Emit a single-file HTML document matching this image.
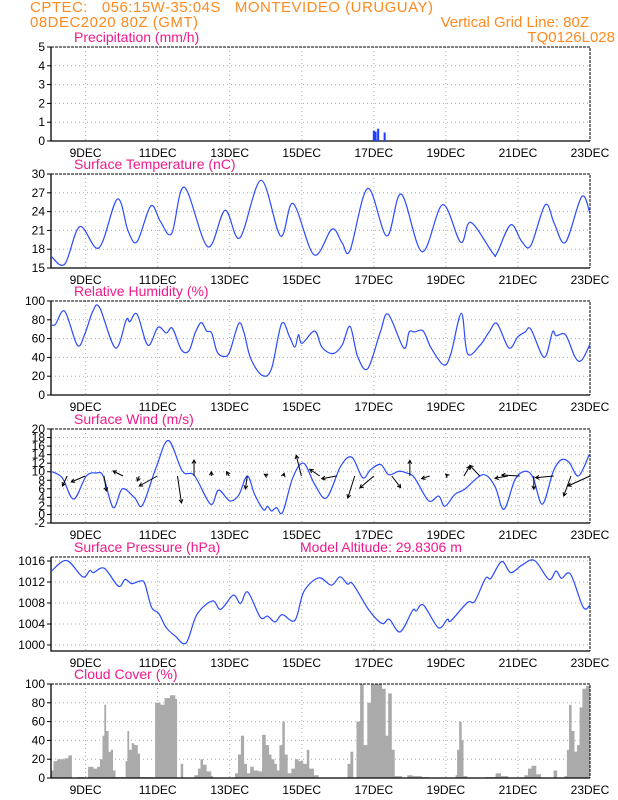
<!DOCTYPE html>
<html><head><meta charset="utf-8">
<style>
html,body{margin:0;padding:0;background:#fff;}
svg{display:block;font-family:"Liberation Sans",sans-serif;}
text{white-space:pre;}
</style></head>
<body>
<svg id="chart" width="618" height="800" viewBox="0 0 618 800">
<text x="30" y="12" font-size="15" fill="#ff8a20" textLength="403" xml:space="preserve">CPTEC:   056:15W-35:04S   MONTEVIDEO (URUGUAY)</text>
<text x="30" y="27" font-size="15" fill="#ff8a20" textLength="168" xml:space="preserve">08DEC2020 80Z (GMT)</text>
<text x="589" y="27" font-size="15" fill="#ff8a20" text-anchor="end">Vertical Grid Line: 80Z</text>
<text x="615" y="42" font-size="15" fill="#ff8a20" text-anchor="end">TQ0126L028</text>
</svg>
<script>
// ---- data (days = day of December) ----
const dayTicks = [9,11,13,15,17,19,21,23];
const dayLabels = ["9DEC","11DEC","13DEC","15DEC","17DEC","19DEC","21DEC","23DEC"];

const precipDays = [17.0,17.05,17.12,17.3];
const precipVals = [0.55,0.5,0.65,0.45];

const tempDays = [8.04,8.42,8.84,9.37,9.88,10.18,10.43,10.81,11.08,11.39,11.74,12.39,12.87,13.28,13.87,14.41,14.76,15.34,15.84,16.12,16.34,16.83,17.36,17.76,18.34,18.91,19.41,19.69,20.30,20.42,20.80,21.11,21.36,21.76,22.01,22.32,22.77,23.0];
const tempVals = [16.9,15.6,21.6,18.2,26.0,20.9,19.2,24.9,22.4,20.5,27.9,18.4,24.2,19.8,29.0,20.1,25.3,17.1,21.2,19.0,17.8,27.7,20.1,26.8,17.6,25.1,19.1,22.3,17.4,17.4,21.9,19.2,18.6,25.1,22.1,19.1,26.4,23.7];

const rhDays = [8.04,8.16,8.42,8.77,8.97,9.2,9.39,9.83,10.13,10.23,10.43,10.73,11.01,11.24,11.41,11.66,11.87,12.04,12.21,12.36,12.5,12.65,12.85,13.0,13.25,13.4,13.58,13.9,14.16,14.44,14.66,14.81,14.91,15.01,15.36,15.56,15.86,16.12,16.34,16.55,16.83,17.18,17.4,17.83,17.98,18.13,18.37,18.59,18.94,19.14,19.43,19.6,19.95,20.2,20.42,20.75,21.0,21.2,21.36,21.73,21.96,22.06,22.32,22.59,22.77,23.0];
const rhVals = [75,75,89,53,64,89,93,50,80,78,86,53,72,66,71,48,47,66,77,68,66,46,41,46,76,66,39,21,28,76,62,51,64,55,68,51,44,53,73,41,28,67,86,50,67,67,68,50,32,44,87,44,53,67,76,50,62,67,70,40,67,63,64,40,37,54];

const windDays = [8.04,8.35,8.67,9.02,9.3,9.49,9.77,10.02,10.36,10.58,10.97,11.3,11.69,12.02,12.47,12.69,13.0,13.25,13.49,13.69,13.94,14.05,14.16,14.3,14.47,14.75,15.05,15.36,15.69,16.08,16.39,16.69,16.91,17.19,17.41,17.69,17.91,18.13,18.52,18.8,18.97,19.25,19.52,20.03,20.36,20.61,20.92,21.2,21.42,21.68,21.98,22.2,22.42,22.68,22.98];
const windVals = [10.1,8.6,3.6,9.0,9.7,9.0,1.6,6.0,3.9,2.2,11.3,17.3,10.1,9.1,2.4,5.7,3.2,4.5,9.0,4.7,1.1,1.9,0.8,1.6,0.5,8.6,12.0,7.0,3.9,11.3,13.4,8.6,10.5,11.7,9.3,10.1,9.7,8.6,3.2,4.3,1.9,4.7,5.9,9.3,6.6,1.2,8.2,10.1,8.6,2.4,10.1,12.8,12.2,9.0,14.0];

const arrowDays = [8.99,8.49,10.04,9.51,10.99,10.49,11.55,12.01,12.49,12.99,13.49,14.05,14.49,14.99,15.97,15.5,16.47,17.0,17.5,18.0,18.55,19.05,19.5,19.94,20.72,21.05,21.44,21.99,22.47,23.0];
const arrowU = [-14,-4.8,-10,2.4,-18,-2,4,0,0,-2.8,-2,-3.2,0.8,-5.2,-15,-10,-7,-14,8.8,0,-8,-2,6,-10,-12.8,-18,0,-18,-7.2,-22];
const arrowV = [-6,-10,5,-15,-10,-5,-27,16,4.3,4.3,-13,1.7,2.7,20.7,-2.7,6.7,-22,-12,-11.7,15.7,-2.7,1.7,10,10.7,-2.3,1,-13.3,-1.7,-20,-10];

const presDays = [8.04,8.47,8.92,9.12,9.22,9.52,9.91,10.1,10.28,10.53,10.65,10.83,11.03,11.24,11.49,11.79,12.09,12.52,12.75,13.1,13.3,13.5,13.85,14.05,14.26,14.46,14.81,15.06,15.47,15.82,16.06,16.27,16.42,16.88,17.23,17.43,17.73,18.08,18.18,18.38,18.79,19.04,19.14,19.6,19.8,20.1,20.25,20.55,20.8,21.11,21.46,21.86,22.06,22.21,22.46,22.81,23.0];
const presVals = [1014.0,1016.1,1013.0,1014.2,1013.8,1014.6,1011.2,1012.5,1011.7,1012.2,1011.6,1007.2,1006.0,1003.3,1001.7,1000.4,1005.8,1008.4,1006.8,1009.5,1007.9,1010.1,1005.3,1005.5,1004.4,1005.8,1004.7,1010.2,1012.8,1011.4,1013.0,1011.6,1011.6,1006.5,1004.1,1004.9,1002.5,1006.6,1006.5,1007.6,1003.3,1004.9,1004.6,1008.1,1008.3,1012.7,1012.7,1015.9,1013.8,1015.2,1016.1,1012.5,1014.1,1012.7,1013.5,1007.2,1007.6];

const cloudDays = [8.04,8.11,8.21,8.31,8.42,8.52,8.62,8.77,8.97,9.07,9.22,9.32,9.4,9.47,9.52,9.57,9.64,9.7,9.76,9.83,10.08,10.11,10.16,10.21,10.28,10.35,10.45,10.51,10.88,10.93,11.08,11.19,11.34,11.49,11.54,11.64,11.71,12.02,12.12,12.19,12.26,12.36,12.49,12.54,13.15,13.23,13.31,13.4,13.48,13.57,13.67,13.8,13.9,14.0,14.09,14.16,14.24,14.31,14.38,14.46,14.53,14.61,14.71,14.81,14.91,15.04,15.14,15.21,15.34,15.47,16.27,16.35,16.43,16.52,16.62,16.72,16.82,16.92,17.07,17.23,17.33,17.4,17.5,17.58,17.78,17.93,18.08,18.33,18.53,19.27,19.31,19.37,19.44,19.49,19.6,20.1,20.38,20.53,20.73,21.18,21.28,21.38,21.51,21.64,21.99,22.09,22.29,22.36,22.42,22.49,22.57,22.64,22.71,22.79,22.89,23.0];
const cloudVals = [8,18,20,20,21,24,0,1,0,12,10,12,20,45,78,50,28,30,8,1,0,18,50,30,37,35,26,1,0,80,78,85,88,84,0,15,0,3,10,20,14,7,2,0,5,25,45,15,5,12,8,7,46,35,25,20,15,8,35,60,25,5,10,20,18,15,30,10,3,0,15,28,0,60,100,35,80,100,100,95,45,90,30,2,0,3,2,1,0,3,30,60,40,2,0,1,5,2,0,3,10,13,4,0,8,0,2,30,78,50,28,35,75,95,98,100];

// ---- drawing ----
const NS = "http://www.w3.org/2000/svg";
const svg = document.getElementById('chart');
const X0 = 51, X1 = 590, D0 = 8.04, D1 = 23.0;
function xs(d){ return X0 + (d - D0) / (D1 - D0) * (X1 - X0); }
function mk(tag, attrs, parent){
  const e = document.createElementNS(NS, tag);
  for (const k in attrs) e.setAttribute(k, attrs[k]);
  (parent || svg).appendChild(e);
  return e;
}
function smoothPath(pts){
  let d = "M" + pts[0][0].toFixed(1) + "," + pts[0][1].toFixed(1);
  for (let i = 0; i < pts.length - 1; i++){
    const p0 = pts[Math.max(0, i-1)], p1 = pts[i], p2 = pts[i+1], p3 = pts[Math.min(pts.length-1, i+2)];
    const c1x = p1[0] + (p2[0]-p0[0])/6, c1y = p1[1] + (p2[1]-p0[1])/6;
    const c2x = p2[0] - (p3[0]-p1[0])/6, c2y = p2[1] - (p3[1]-p1[1])/6;
    d += "C" + c1x.toFixed(1)+","+c1y.toFixed(1)+" "+c2x.toFixed(1)+","+c2y.toFixed(1)+" "+p2[0].toFixed(1)+","+p2[1].toFixed(1);
  }
  return d;
}

function panel(cfg){
  const g = mk('g', {});
  
  
  const top = cfg.top, bot = cfg.top + 94;
  const ys = v => cfg.yTop + (cfg.vTop - v) / (cfg.vTop - cfg.vBot) * (cfg.yBot - cfg.yTop);
  cfg.ticks.forEach(t => {
    const y = ys(t);
    if (y > top + 1 && y < bot - 1){
      const l = mk('line', {x1:X0, x2:X1, y1:y, y2:y, stroke:'#aaa', 'stroke-width':1, 'stroke-dasharray':'1,3'}, g);
      
      
    }
    const tk = mk('line', {x1:X0-4, x2:X0, y1:y, y2:y, stroke:'#000'}, g);
    
    
    const tx = mk('text', {x:X0-6, y:y+4, 'font-size':12, 'text-anchor':'end', fill:'#000'}, g);
    tx.textContent = String(t);
    
    
  });
  dayTicks.forEach((d, i) => {
    const x = xs(d);
    if (x < X1 - 1){
      const l = mk('line', {x1:x, x2:x, y1:top, y2:bot, stroke:'#aaa', 'stroke-width':1, 'stroke-dasharray':'1,3'}, g);
      
      
    }
    const tx = mk('text', {x:x, y:bot+16, 'font-size':12, 'text-anchor':'middle', fill:'#000'}, g);
    tx.textContent = dayLabels[i];
    
    
  });
  const fr = mk('path', {d:`M${X0},${top}H${X1}V${bot}`, fill:'none', stroke:'#000', 'stroke-dasharray':'3,1'}, g);
  
  
  const ax = mk('path', {d:`M${X0},${top}V${bot}H${X1}`, fill:'none', stroke:'#000', 'stroke-width':1.3}, g);
  
  
  const ti = mk('text', {x:74, y:top-5, 'font-size':14, fill:'#ee1a8a'}, g);
  ti.textContent = cfg.title;
  
  
  return {g, ys, top, bot};
}

(function(){
  const p = panel({name:'precipitation', title:'Precipitation (mm/h)', top:47, yTop:47, yBot:141, vTop:5, vBot:0, ticks:[0,1,2,3,4,5]});
  precipDays.forEach((d, i) => {
    const x = xs(d), y = p.ys(precipVals[i]);
    const r = mk('rect', {x:x-1, y:y, width:2, height:p.ys(0)-y, fill:'#1e3cff'}, p.g);
    
    
  });
})();

function linePanel(cfg, days, vals){
  const p = panel(cfg);
  const pts = days.map((d, i) => [xs(d), p.ys(vals[i])]);
  const path = mk('path', {d:smoothPath(pts), fill:'none', stroke:'#2a4bff', 'stroke-width':1.2}, p.g);
  
  
  return p;
}
linePanel({name:'temperature', title:'Surface Temperature (nC)', top:174, yTop:174, yBot:268, vTop:30, vBot:15, ticks:[15,18,21,24,27,30]}, tempDays, tempVals);
linePanel({name:'humidity', title:'Relative Humidity (%)', top:301, yTop:301, yBot:395, vTop:100, vBot:0, ticks:[0,20,40,60,80,100]}, rhDays, rhVals);
const wp = linePanel({name:'wind', title:'Surface Wind (m/s)', top:429, yTop:429, yBot:523, vTop:20, vBot:-2, ticks:[-2,0,2,4,6,8,10,12,14,16,18,20]}, windDays, windVals);
arrowDays.forEach((d, i) => {
  const x0 = xs(d), y0 = wp.ys(9);
  const x1 = x0 + arrowU[i], y1 = y0 - arrowV[i];
  const ang = Math.atan2(y1 - y0, x1 - x0), h = 4;
  const a1 = [x1 - h*Math.cos(ang-0.5), y1 - h*Math.sin(ang-0.5)];
  const a2 = [x1 - h*Math.cos(ang+0.5), y1 - h*Math.sin(ang+0.5)];
  const ar = mk('path', {d:`M${x0},${y0}L${x1},${y1}M${a1[0]},${a1[1]}L${x1},${y1}L${a2[0]},${a2[1]}`, fill:'none', stroke:'#000', 'stroke-width':1}, wp.g);
  
  
});
const pp = linePanel({name:'pressure', title:'Surface Pressure (hPa)', top:557, yTop:561, yBot:645, vTop:1016, vBot:1000, ticks:[1000,1004,1008,1012,1016]}, presDays, presVals);
const alt = mk('text', {x:300, y:552, 'font-size':14, fill:'#ee1a8a'}, pp.g);
alt.textContent = 'Model Altitude: 29.8306 m';



(function(){
  const p = panel({name:'cloud', title:'Cloud Cover (%)', top:684, yTop:684, yBot:778, vTop:100, vBot:0, ticks:[0,20,40,60,80,100]});
  const y0 = p.ys(0);
  let d = `M${xs(cloudDays[0])},${y0}`;
  for (let i = 0; i < cloudDays.length; i++){
    const xa = xs(cloudDays[i]);
    const xb = i < cloudDays.length - 1 ? xs(cloudDays[i+1]) : X1;
    const y = p.ys(cloudVals[i]);
    d += `L${xa.toFixed(1)},${y.toFixed(1)}L${xb.toFixed(1)},${y.toFixed(1)}`;
  }
  d += `L${X1},${y0}Z`;
  const area = mk('path', {d:d, fill:'#aaaaaa', stroke:'none'}, p.g);
  
  
  p.g.insertBefore(area, p.g.firstChild);
})();
</script>
</body></html>
